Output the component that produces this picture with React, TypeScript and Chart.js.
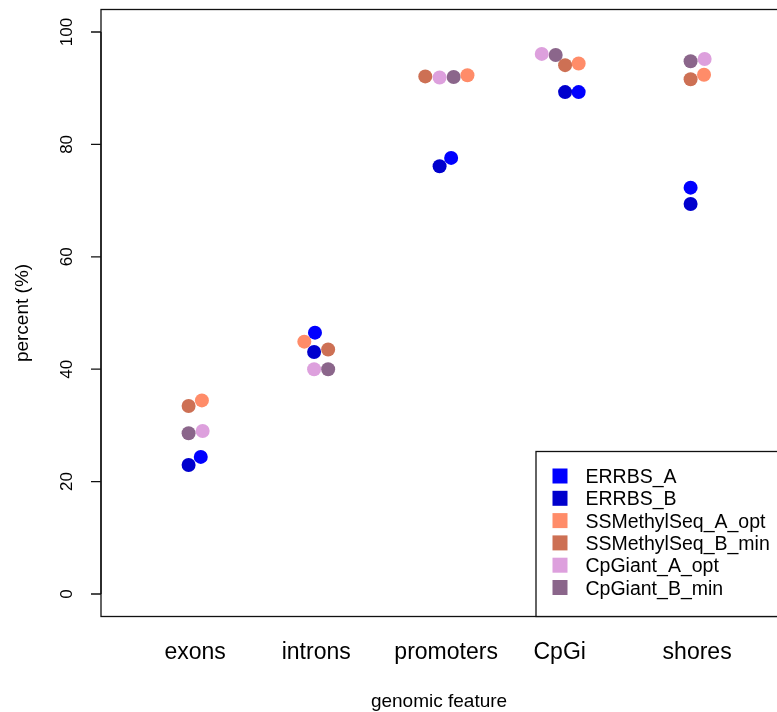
import { useEffect, useRef } from "react";
import { Chart, registerables } from "chart.js";

Chart.register(...registerables);

// Genomic features along the x axis (positions 1..5) and where their names sit
const features = ["exons", "introns", "promoters", "CpGi", "shores"];
const featurePositions = [1, 2, 3, 4, 5];
const featureLabelPositions = [1, 1.965, 3, 3.905, 5];

// Methylation percent per feature for each library
const seriesNames = [
  "ERRBS_A",
  "ERRBS_B",
  "SSMethylSeq_A_opt",
  "SSMethylSeq_B_min",
  "CpGiant_A_opt",
  "CpGiant_B_min",
];
const seriesColors = ["#0000FF", "#0000CD", "#FF8C69", "#CD7054", "#DDA0DD", "#8B668B"];

const errbsA = [24.4, 46.5, 77.6, 89.3, 72.3];
const errbsB = [22.95, 43.05, 76.1, 89.3, 69.4];
const ssMethylSeqAOpt = [34.45, 44.9, 92.3, 94.4, 92.4];
const ssMethylSeqBMin = [33.45, 43.5, 92.1, 94.1, 91.6];
const cpGiantAOpt = [29.0, 40.0, 91.9, 96.1, 95.2];
const cpGiantBMin = [28.6, 40.0, 92.0, 95.9, 94.8];

// Horizontal swarm displacement of each point from its feature position
const errbsASwarm = [0.045, -0.045, 0.04, 0.056, -0.052];
const errbsBSwarm = [-0.052, -0.052, -0.052, -0.052, -0.052];
const ssMethylSeqASwarm = [0.054, -0.13, 0.17, 0.056, 0.055];
const ssMethylSeqBSwarm = [-0.052, 0.06, -0.166, -0.052, -0.052];
const cpGiantASwarm = [0.06, -0.052, -0.052, -0.238, 0.06];
const cpGiantBSwarm = [-0.052, 0.06, 0.06, -0.127, -0.052];

const seriesValues = [errbsA, errbsB, ssMethylSeqAOpt, ssMethylSeqBMin, cpGiantAOpt, cpGiantBMin];
const seriesSwarm = [errbsASwarm, errbsBSwarm, ssMethylSeqASwarm, ssMethylSeqBSwarm, cpGiantASwarm, cpGiantBSwarm];

const yTicks = [0, 20, 40, 60, 80, 100];
const xTitle = "genomic feature";
const yTitle = "percent (%)";

const FONT = '"Liberation Sans", Arial, Helvetica, sans-serif';

const framePlugin = {
  id: "baseFrame",
  afterDraw(chart: any) {
    const { ctx, chartArea, scales } = chart;
    const { left, top, right, bottom } = chartArea;
    const xs = scales.x;
    const ys = scales.y;
    ctx.save();

    // plot box
    ctx.strokeStyle = "#111";
    ctx.lineWidth = 1.3;
    ctx.strokeRect(left, top, right - left, bottom - top);

    // y axis ticks and rotated labels
    ctx.fillStyle = "#000";
    ctx.font = `17px ${FONT}`;
    ctx.textAlign = "center";
    ctx.textBaseline = "alphabetic";
    ctx.beginPath();
    ctx.moveTo(left, ys.getPixelForValue(yTicks[0]));
    ctx.lineTo(left, ys.getPixelForValue(yTicks[yTicks.length - 1]));
    for (const t of yTicks) {
      const y = ys.getPixelForValue(t);
      ctx.moveTo(left - 10, y);
      ctx.lineTo(left, y);
    }
    ctx.stroke();
    for (const t of yTicks) {
      const y = ys.getPixelForValue(t);
      ctx.save();
      ctx.translate(72, y);
      ctx.rotate(-Math.PI / 2);
      ctx.fillText(String(t), 0, 0);
      ctx.restore();
    }

    // y title
    ctx.save();
    ctx.font = `19px ${FONT}`;
    ctx.translate(27.5, (top + bottom) / 2);
    ctx.rotate(-Math.PI / 2);
    ctx.fillText(yTitle, 0, 0);
    ctx.restore();

    // feature names
    ctx.font = `23px ${FONT}`;
    features.forEach((name, i) => {
      ctx.fillText(name, xs.getPixelForValue(featureLabelPositions[i]), 659);
    });

    // x title
    ctx.font = `19px ${FONT}`;
    ctx.fillText(xTitle, 439, 707);

    // legend in the bottom-right corner
    const boxLeft = 536;
    const boxTop = 451.5;
    ctx.fillStyle = "#fff";
    ctx.fillRect(boxLeft, boxTop, right - boxLeft, bottom - boxTop);
    ctx.strokeRect(boxLeft, boxTop, right - boxLeft, bottom - boxTop);
    ctx.font = `19.5px ${FONT}`;
    ctx.textAlign = "left";
    chart.data.datasets.forEach((ds: any, i: number) => {
      const cy = 476 + i * 22.3;
      ctx.fillStyle = ds.backgroundColor;
      ctx.fillRect(552.5, cy - 7.5, 15, 15);
      ctx.fillStyle = "#000";
      ctx.fillText(ds.label, 585.5, cy + 7);
    });

    ctx.restore();
  },
};

export default function App() {
  const canvasRef = useRef<HTMLCanvasElement | null>(null);

  useEffect(() => {
    if (!canvasRef.current) return;
    const datasets = seriesNames.map((name, s) => ({
      label: name,
      data: seriesValues[s].map((v, i) => ({ x: featurePositions[i] + seriesSwarm[s][i], y: v })),
      backgroundColor: seriesColors[s],
      borderWidth: 0,
      pointRadius: 7,
      pointHoverRadius: 7,
    }));
    const chart = new Chart(canvasRef.current, {
      type: "scatter",
      data: { datasets },
      options: {
        responsive: false,
        animation: false,
        events: [],
        layout: { padding: { left: 101, top: 9.5, right: 8.75, bottom: 95.5 } },
        plugins: { legend: { display: false }, tooltip: { enabled: false } },
        scales: {
          x: { type: "linear", min: 0.25, max: 5.75, display: false },
          y: { type: "linear", min: -4, max: 104, display: false },
        },
      },
      plugins: [framePlugin],
    });
    return () => chart.destroy();
  }, []);

  return (
    <div
      style={{
        position: "fixed",
        left: 0,
        top: 0,
        width: 777,
        height: 712,
        overflow: "hidden",
        background: "#fff",
      }}
    >
      <canvas ref={canvasRef} width={800} height={712} style={{ display: "block" }} />
    </div>
  );
}
